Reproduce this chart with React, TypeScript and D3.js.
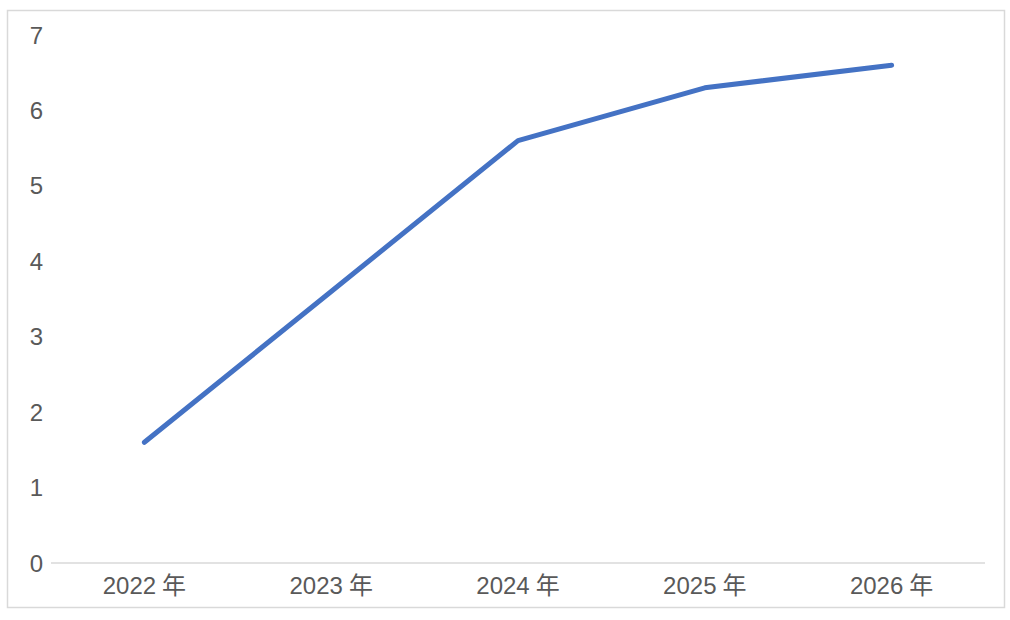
import { useEffect, useRef } from "react";
import * as d3 from "d3";

const years = ["2022", "2023", "2024", "2025", "2026"];
const values = [1.6, 3.6, 5.6, 6.3, 6.6];
const yTicks = [0, 1, 2, 3, 4, 5, 6, 7];

const W = 1010;
const H = 620;
const FONT = "'Liberation Sans', 'Noto Sans CJK JP', sans-serif";

export default function App() {
  const ref = useRef<SVGSVGElement>(null);

  useEffect(() => {
    if (!ref.current) return;
    const svg = d3.select(ref.current);
    svg.selectAll("*").remove();

    // chart frame
    svg
      .append("rect")
      .attr("x", 7.5)
      .attr("y", 10.5)
      .attr("width", 997)
      .attr("height", 597)
      .attr("fill", "#fff")
      .attr("stroke", "#d9d9d9")
      .attr("stroke-width", 1.5);

    const x = d3.scaleBand<string>().domain(years).range([51, 985]);
    const y = d3.scaleLinear().domain([0, 7]).range([563, 35]);

    // y labels
    svg
      .append("g")
      .selectAll("text")
      .data(yTicks)
      .enter()
      .append("text")
      .attr("x", 43)
      .attr("y", (d) => y(d))
      .attr("dy", "0.36em")
      .attr("text-anchor", "end")
      .attr("font-family", FONT)
      .attr("font-size", 24)
      .attr("fill", "#595959")
      .text((d) => d);

    // x axis line
    svg
      .append("line")
      .attr("x1", 51)
      .attr("x2", 985)
      .attr("y1", y(0))
      .attr("y2", y(0))
      .attr("stroke", "#d9d9d9")
      .attr("stroke-width", 1.5);

    // x labels
    const xl = svg
      .append("g")
      .selectAll("text")
      .data(years)
      .enter()
      .append("text")
      .attr("x", (d) => x(d)! + x.bandwidth() / 2)
      .attr("y", 594)
      .attr("text-anchor", "middle")
      .attr("font-family", FONT)
      .attr("font-size", 24)
      .attr("fill", "#595959");
    xl.append("tspan").text((d) => d);
    xl.append("tspan").attr("dx", 6).text("年");

    const line = d3
      .line<number>()
      .x((_, i) => x(years[i])! + x.bandwidth() / 2)
      .y((d) => y(d));

    svg
      .append("path")
      .datum(values)
      .attr("fill", "none")
      .attr("stroke", "#4472c4")
      .attr("stroke-width", 5)
      .attr("stroke-linecap", "round")
      .attr("stroke-linejoin", "round")
      .attr("d", line);
  }, []);

  return (
    <div style={{ position: "fixed", left: 0, top: 0, width: W, height: H, background: "#fff" }}>
      <svg ref={ref} width={W} height={H}></svg>
    </div>
  );
}
